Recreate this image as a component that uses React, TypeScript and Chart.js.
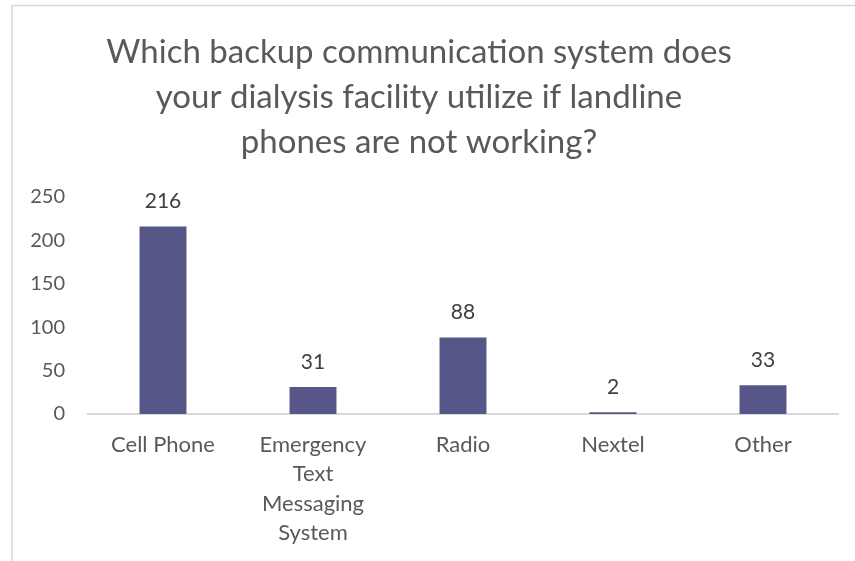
import React, { useEffect, useRef } from "react";
import { Chart, registerables } from "chart.js";

Chart.register(...registerables);

const TITLE_LINES = [
  "Which backup communication system does",
  "your dialysis facility utilize if landline",
  "phones are not working?",
];
const CATEGORIES: (string | string[])[] = [
  "Cell Phone",
  ["Emergency", "Text", "Messaging", "System"],
  "Radio",
  "Nextel",
  "Other",
];
const VALUES = [216, 31, 88, 2, 33];
const Y_MIN = 0;
const Y_MAX = 250;
const Y_STEP = 50;

const FONT = "Lato, 'Open Sans', sans-serif";

const framePlugin = {
  id: "frame",
  beforeDraw(chart: any) {
    const { ctx, width, height } = chart;
    ctx.save();
    ctx.strokeStyle = "#d9d9d9";
    ctx.lineWidth = 1.5;
    ctx.beginPath();
    ctx.moveTo(12, height);
    ctx.lineTo(12, 5.5);
    ctx.lineTo(width, 5.5);
    ctx.stroke();
    ctx.restore();
  },
};

const valueLabelPlugin = {
  id: "valueLabels",
  afterDatasetsDraw(chart: any) {
    const { ctx } = chart;
    const meta = chart.getDatasetMeta(0);
    const data = chart.data.datasets[0].data as number[];
    ctx.save();
    ctx.fillStyle = "#404040";
    ctx.font = `21px ${FONT}`;
    ctx.textAlign = "center";
    ctx.textBaseline = "middle";
    meta.data.forEach((bar: any, i: number) => {
      ctx.fillText(String(data[i]), bar.x, bar.y - 25);
    });
    ctx.restore();
  },
};

export default function App() {
  const canvasRef = useRef<HTMLCanvasElement | null>(null);

  useEffect(() => {
    if (!canvasRef.current) return;
    const chart = new Chart(canvasRef.current, {
      type: "bar",
      data: {
        labels: CATEGORIES,
        datasets: [
          {
            data: VALUES,
            backgroundColor: "#565689",
            borderWidth: 0,
            categoryPercentage: 1,
            barPercentage: 0.313,
          },
        ],
      },
      options: {
        responsive: false,
        animation: false,
        devicePixelRatio: 1,
        layout: { padding: { left: 0, right: 17, top: 0, bottom: 13 } },
        plugins: {
          legend: { display: false },
          tooltip: { enabled: false },
          title: {
            display: true,
            text: TITLE_LINES,
            color: "#595959",
            font: { family: FONT, size: 33, weight: "normal", lineHeight: "45px" },
            padding: { top: 29.5, bottom: 32.5 },
          },
        },
        scales: {
          x: {
            grid: { display: false, drawTicks: false },
            border: { display: true, color: "#d9d9d9", width: 2 },
            ticks: {
              color: "#595959",
              font: { family: FONT, size: 22, lineHeight: "29.5px" },
              padding: 16,
              maxRotation: 0,
              autoSkip: false,
            },
            afterFit(scale: any) {
              scale.height = 134;
            },
          },
          y: {
            min: Y_MIN,
            max: Y_MAX,
            grid: { display: false, drawTicks: false },
            border: { display: false },
            ticks: {
              stepSize: Y_STEP,
              color: "#595959",
              font: { family: FONT, size: 20 },
              padding: 23,
            },
            afterFit(scale: any) {
              scale.width = 88;
            },
          },
        },
      },
      plugins: [framePlugin, valueLabelPlugin],
    });
    return () => chart.destroy();
  }, []);

  return (
    <div style={{ position: "absolute", left: 0, top: 0, width: 855, height: 561, background: "#ffffff" }}>
      <canvas ref={canvasRef} width={855} height={561} style={{ display: "block" }} />
    </div>
  );
}
